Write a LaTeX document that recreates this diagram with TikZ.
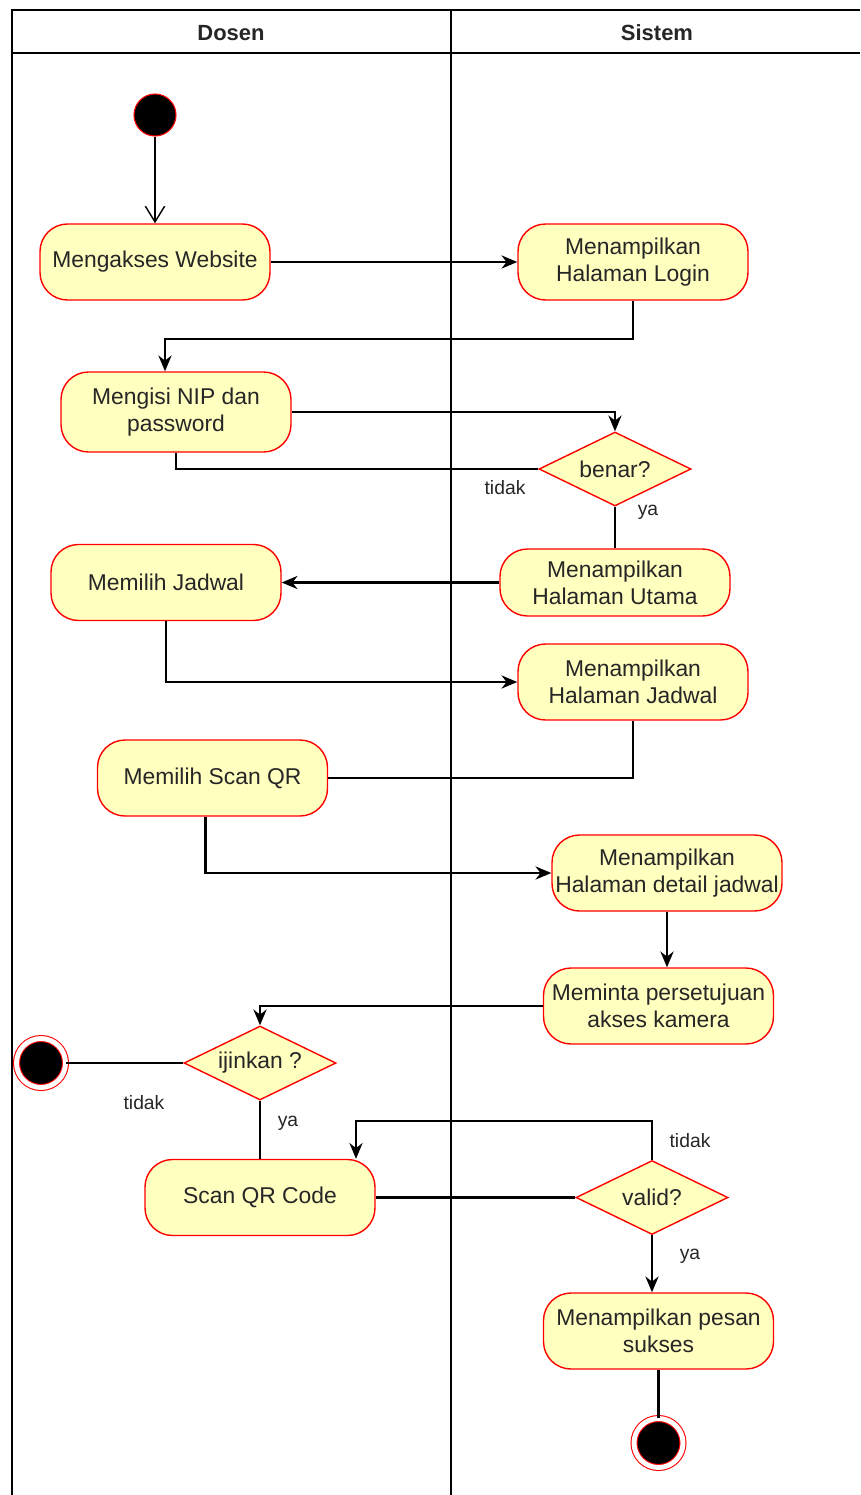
\documentclass[tikz,border=0pt]{standalone}
\usepackage{fontspec}
\setmainfont{Liberation Sans}
\usetikzlibrary{arrows.meta,positioning,shapes.geometric}
\definecolor{actfill}{HTML}{FFFFC0}
\definecolor{actline}{HTML}{FF0000}

\begin{document}
\begin{tikzpicture}[
    act/.style={draw=actline,fill=actfill,rounded corners=0.55cm,minimum width=4.6cm,minimum height=1.52cm,align=center,text=black!85,font=\fontsize{13}{15.4}\selectfont,line width=0.8pt,inner sep=1pt},
    cond/.style={diamond,aspect=2.05,draw=actline,fill=actfill,minimum width=3.04cm,minimum height=1.48cm,inner sep=0pt,text=black!85,font=\fontsize{13}{15.4}\selectfont,line width=0.8pt},
    startdot/.style={circle,draw=actline,fill=black,minimum size=0.84cm,line width=0.6pt},
    enddot/.style={circle,draw=actline,fill=black,double=white,double distance=2.8pt,minimum size=0.98cm,line width=0.6pt},
    lbl/.style={font=\fontsize{11}{13}\selectfont,text=black!85,inner sep=1pt},
    head/.style={font=\bfseries\fontsize{12.5}{15}\selectfont,text=black!85},
    lane/.style={line width=1.1pt},
    flow/.style={line width=1.25pt},
    >={Stealth[length=9pt,width=7.5pt]}
]
            \useasboundingbox (0,0) rectangle (17.2,-29.9);

            % swimlanes
            \draw[lane] (17.2,-0.2) -- (0.24,-0.2) -- (0.24,-29.9);
            \draw[lane] (0.24,-1.06) -- (17.2,-1.06);
            \draw[lane] (9.02,-0.2) -- (9.02,-29.9);
            \node[head] (dosen) at (4.62,-0.66) {Dosen};
            \node[head] (sistem) at (13.14,-0.66) {Sistem};

            % activities
            \node[startdot] (mulai) at (3.1,-2.3) {};
            \node[act] (akses) at (3.1,-5.24) {Mengakses Website};
            \node[act] (login) at (12.66,-5.24) {Menampilkan\\Halaman Login};
            \node[act,minimum height=1.6cm] (isi) at (3.52,-8.24) {Mengisi NIP dan\\password};
            \node[cond] (benar) at (12.3,-9.38) {benar?};
            \node[act,minimum height=1.34cm] (utama) at (12.3,-11.65) {Menampilkan\\Halaman Utama};
            \node[act] (pilihjadwal) at (3.32,-11.65) {Memilih Jadwal};
            \node[act] (hjadwal) at (12.66,-13.64) {Menampilkan\\Halaman Jadwal};
            \node[act] (pilihscan) at (4.25,-15.56) {Memilih Scan QR};
            \node[act] (detail) at (13.34,-17.46) {Menampilkan\\Halaman detail jadwal};
            \node[act] (kamera) at (13.17,-20.12) {Meminta persetujuan\\akses kamera};
            \node[cond] (ijinkan) at (5.2,-21.26) {ijinkan ?};
            \node[enddot] (selesai1) at (0.82,-21.26) {};
            \node[act] (scan) at (5.2,-23.95) {Scan QR Code};
            \node[cond] (valid) at (13.04,-23.95) {valid?};
            \node[act] (sukses) at (13.17,-26.62) {Menampilkan pesan\\sukses};
            \node[enddot] (selesai2) at (13.17,-28.86) {};

            % guard labels
            \node[lbl] (tidak1) at (10.1,-9.76) {tidak};
            \node[lbl] (ya1) at (12.96,-10.24) {ya};
            \node[lbl] (tidak2) at (2.88,-22.06) {tidak};
            \node[lbl] (ya2) at (5.76,-22.46) {ya};
            \node[lbl] (tidak3) at (13.8,-22.82) {tidak};
            \node[lbl] (ya3) at (13.8,-25.12) {ya};

            % flows
            \draw[flow,-{Straight Barb[length=9pt,width=11pt,line width=0.8pt]}] (mulai) -- (akses);
            \draw[flow,->] (akses) -- (login);
            \draw[flow,->] (login.south) -- ++(0,-0.76) -| ([xshift=-0.22cm]isi.north);
            \draw[flow,->] (isi.east) -| (benar.north);
            \draw[flow] (isi.south) |- (benar.west);
            \draw[flow] (benar.south) -- (utama.north);
            \draw[flow,->] (utama.west) -- (pilihjadwal.east);
            \draw[flow,->] (pilihjadwal.south) |- (hjadwal.west);
            \draw[flow] (hjadwal.south) |- (pilihscan.east);
            \draw[flow,->] ([xshift=-0.14cm]pilihscan.south) |- (detail.west);
            \draw[flow,->] (detail.south) -- (detail.south |- kamera.north);
            \draw[flow,->] (kamera.west) -| (ijinkan.north);
            \draw[flow] (ijinkan.west) -- (selesai1);
            \draw[flow] (ijinkan.south) -- (scan.north);
            \draw[flow] (scan.east) -- (valid.west);
            \draw[flow,->] (valid.north) -- ++(0,0.78) -| ([xshift=1.92cm]scan.north);
            \draw[flow,->] (valid.south) -- (valid.south |- sukses.north);
            \draw[flow] (sukses.south) -- (selesai2);
        \end{tikzpicture}
\end{document}
